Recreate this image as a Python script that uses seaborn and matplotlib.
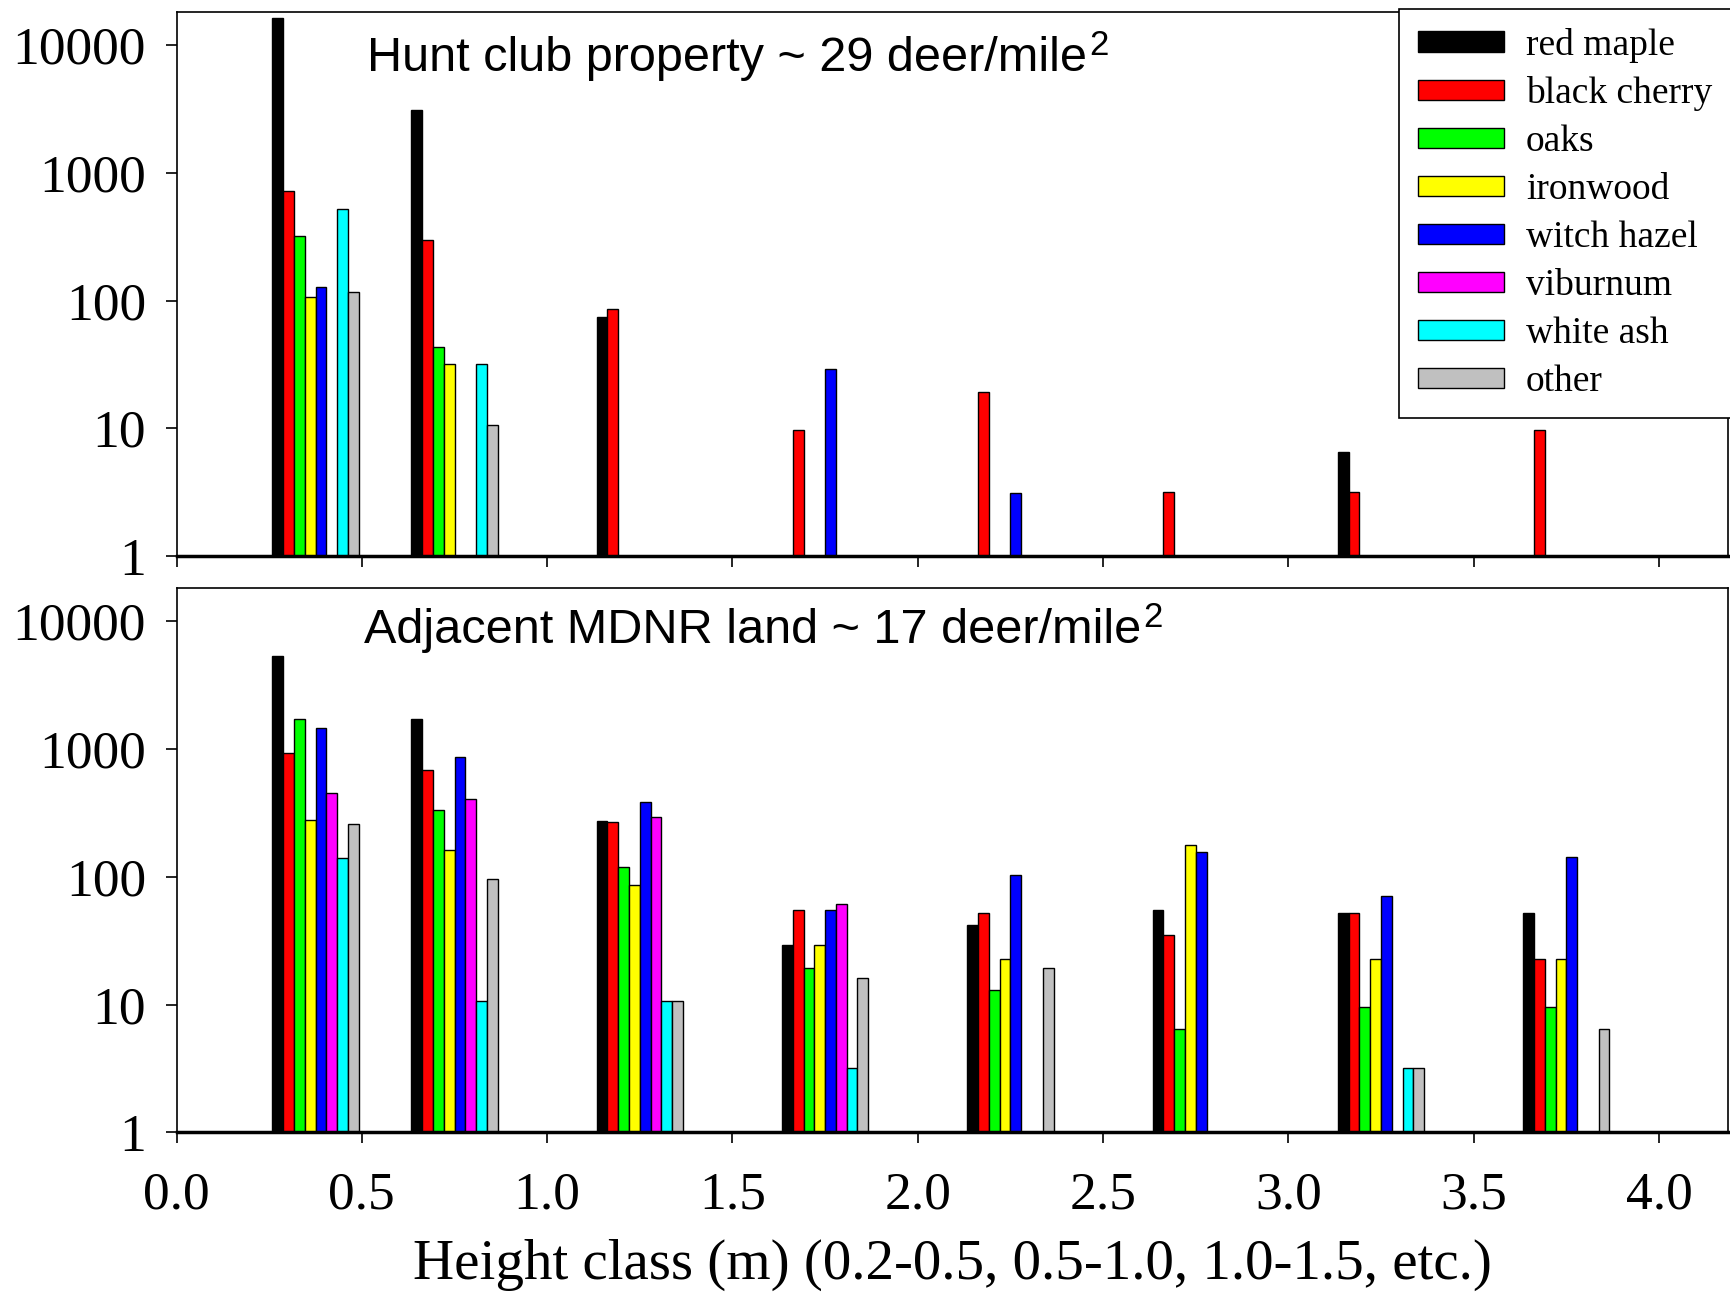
import numpy as np
import pandas as pd
import matplotlib
matplotlib.use("Agg")
import matplotlib.pyplot as plt
from matplotlib.patches import Patch
from matplotlib.ticker import NullLocator
import seaborn as sns

# ── DONNEES ─────────────────────────────────────────────────────
species = ["red maple", "black cherry", "oaks", "ironwood",
           "witch hazel", "viburnum", "white ash", "other"]
colors = ["#000000", "#ff0000", "#00ff00", "#ffff00",
          "#0000ff", "#ff00ff", "#00ffff", "#c0c0c0"]
height_class = [0.375, 0.75, 1.25, 1.75, 2.25, 2.75, 3.25, 3.75]

nan = np.nan

# Hunt club property ~ 29 deer/mile2
hunt_red_maple    = [16300, 3100, 75,  nan, nan, nan, 6.5, nan]
hunt_black_cherry = [718,   299,  86,  9.7, 19.4, 3.2, 3.2, 9.7]
hunt_oaks         = [321,   43,   nan, nan, nan, nan, nan, nan]
hunt_ironwood     = [106,   32,   nan, nan, nan, nan, nan, nan]
hunt_witch_hazel  = [128,   nan,  nan, 29,  3.1, nan, nan, nan]
hunt_viburnum     = [nan,   nan,  nan, nan, nan, nan, nan, nan]
hunt_white_ash    = [518,   32,   nan, nan, nan, nan, nan, nan]
hunt_other        = [117,   10.7, nan, nan, nan, nan, nan, nan]

# Adjacent MDNR land ~ 17 deer/mile2
mdnr_red_maple    = [5320, 1694, 272, 29,   42,  55,  52,  52]
mdnr_black_cherry = [925,  686,  267, 55,   52,  35,  52,  22.5]
mdnr_oaks         = [1694, 332,  119, 19.2, 12.9, 6.4, 9.6, 9.6]
mdnr_ironwood     = [277,  161,  86,  29,   22.5, 177, 22.5, 22.5]
mdnr_witch_hazel  = [1463, 860,  384, 55,   103, 155, 71,  143]
mdnr_viburnum     = [451,  408,  291, 61,   nan, nan, nan, nan]
mdnr_white_ash    = [139,  10.7, 10.7, 3.2, nan, nan, 3.2, nan]
mdnr_other        = [256,  96,   10.7, 16.1, 19.3, nan, 3.2, 6.4]

hunt = [hunt_red_maple, hunt_black_cherry, hunt_oaks, hunt_ironwood,
        hunt_witch_hazel, hunt_viburnum, hunt_white_ash, hunt_other]
mdnr = [mdnr_red_maple, mdnr_black_cherry, mdnr_oaks, mdnr_ironwood,
        mdnr_witch_hazel, mdnr_viburnum, mdnr_white_ash, mdnr_other]


def to_long(series):
    rows = []
    for sp, vals in zip(species, series):
        for h, v in zip(height_class, vals):
            rows.append({"height": h, "species": sp, "count": v})
    return pd.DataFrame(rows).dropna()


df_hunt = to_long(hunt)
df_mdnr = to_long(mdnr)

# ── STYLE ───────────────────────────────────────────────────────
sns.set_style("ticks")
plt.rcParams["font.family"] = ["Liberation Serif", "DejaVu Serif"]
plt.rcParams["text.color"] = "black"
plt.rcParams["axes.labelcolor"] = "black"
plt.rcParams["xtick.color"] = "black"
plt.rcParams["ytick.color"] = "black"
plt.rcParams["axes.edgecolor"] = "black"

palette = dict(zip(species, colors))
SANS = ["Liberation Sans", "DejaVu Sans"]

fig = plt.figure(figsize=(17.31, 12.98), dpi=100)
ax1 = fig.add_axes([0.102, 0.5714, 0.896, 0.4192])
ax2 = fig.add_axes([0.102, 0.1276, 0.896, 0.4192])

titles = ["Hunt club property ~ 29 deer/mile", "Adjacent MDNR land ~ 17 deer/mile"]
title_pos = [(0.123, 0.892), (0.121, 0.899)]
title_txt = []

for ax, df, title, (tx, ty) in zip([ax1, ax2], [df_hunt, df_mdnr], titles, title_pos):
    sns.barplot(
        data=df, x="height", y="count", hue="species",
        hue_order=species, palette=palette, saturation=1,
        native_scale=True, width=0.621, gap=0, dodge=True,
        edgecolor="black", linewidth=1.0,
        errorbar=None, legend=False, ax=ax
    )
    ax.set_yscale("log")
    ax.set_ylim(1, 18000)
    ax.set_xlim(0, 4.185)
    ax.set_yticks([1, 10, 100, 1000, 10000])
    ax.set_yticklabels(["1", "10", "100", "1000", "10000"])
    ax.yaxis.set_minor_locator(NullLocator())
    ax.set_xticks([0.0, 0.5, 1.0, 1.5, 2.0, 2.5, 3.0, 3.5, 4.0])
    ax.set_xticklabels(["0.0", "0.5", "1.0", "1.5", "2.0", "2.5", "3.0", "3.5", "4.0"])
    ax.tick_params(axis="both", direction="out", length=8, width=1.2,
                   labelsize=38.5, color="black", labelcolor="black")
    ax.tick_params(axis="y", pad=14)
    ax.tick_params(axis="x", pad=20)
    ax.set_xlabel("")
    ax.set_ylabel("")
    for side in ["top", "right", "left"]:
        ax.spines[side].set_linewidth(1.2)
    ax.spines["bottom"].set_linewidth(2.5)
    t = ax.text(tx, ty, title, transform=ax.transAxes, fontsize=35,
                family=SANS, va="baseline", ha="left")
    title_txt.append((ax, t, tx, ty))

ax1.tick_params(axis="x", labelbottom=False)
ax2.set_xlabel("Height class (m) (0.2-0.5, 0.5-1.0, 1.0-1.5, etc.)",
               fontsize=41, labelpad=14)

handles = [Patch(facecolor=c, edgecolor="black", linewidth=1.0) for c in colors]
leg = ax1.legend(
    handles, species, loc="upper right",
    bbox_to_anchor=(1.0, 0.993), bbox_transform=fig.transFigure,
    fontsize=27, frameon=True, fancybox=False, framealpha=1,
    edgecolor="black", borderaxespad=0, borderpad=0.5,
    handlelength=2.3, handleheight=0.45, handletextpad=0.58,
    labelspacing=0.36
)
leg.get_frame().set_linewidth(1.2)

# exposant "2" après le titre de chaque panneau
fig.canvas.draw()
renderer = fig.canvas.get_renderer()
for ax, t, tx, ty in title_txt:
    bb = t.get_window_extent(renderer)
    base_y = ax.transAxes.transform((tx, ty))[1]
    ax.annotate("2", xy=(bb.x1 + 2, base_y + 16), xycoords="figure pixels",
                fontsize=25, family=SANS, va="baseline", ha="left")

fig.savefig("out.png", dpi=100)
